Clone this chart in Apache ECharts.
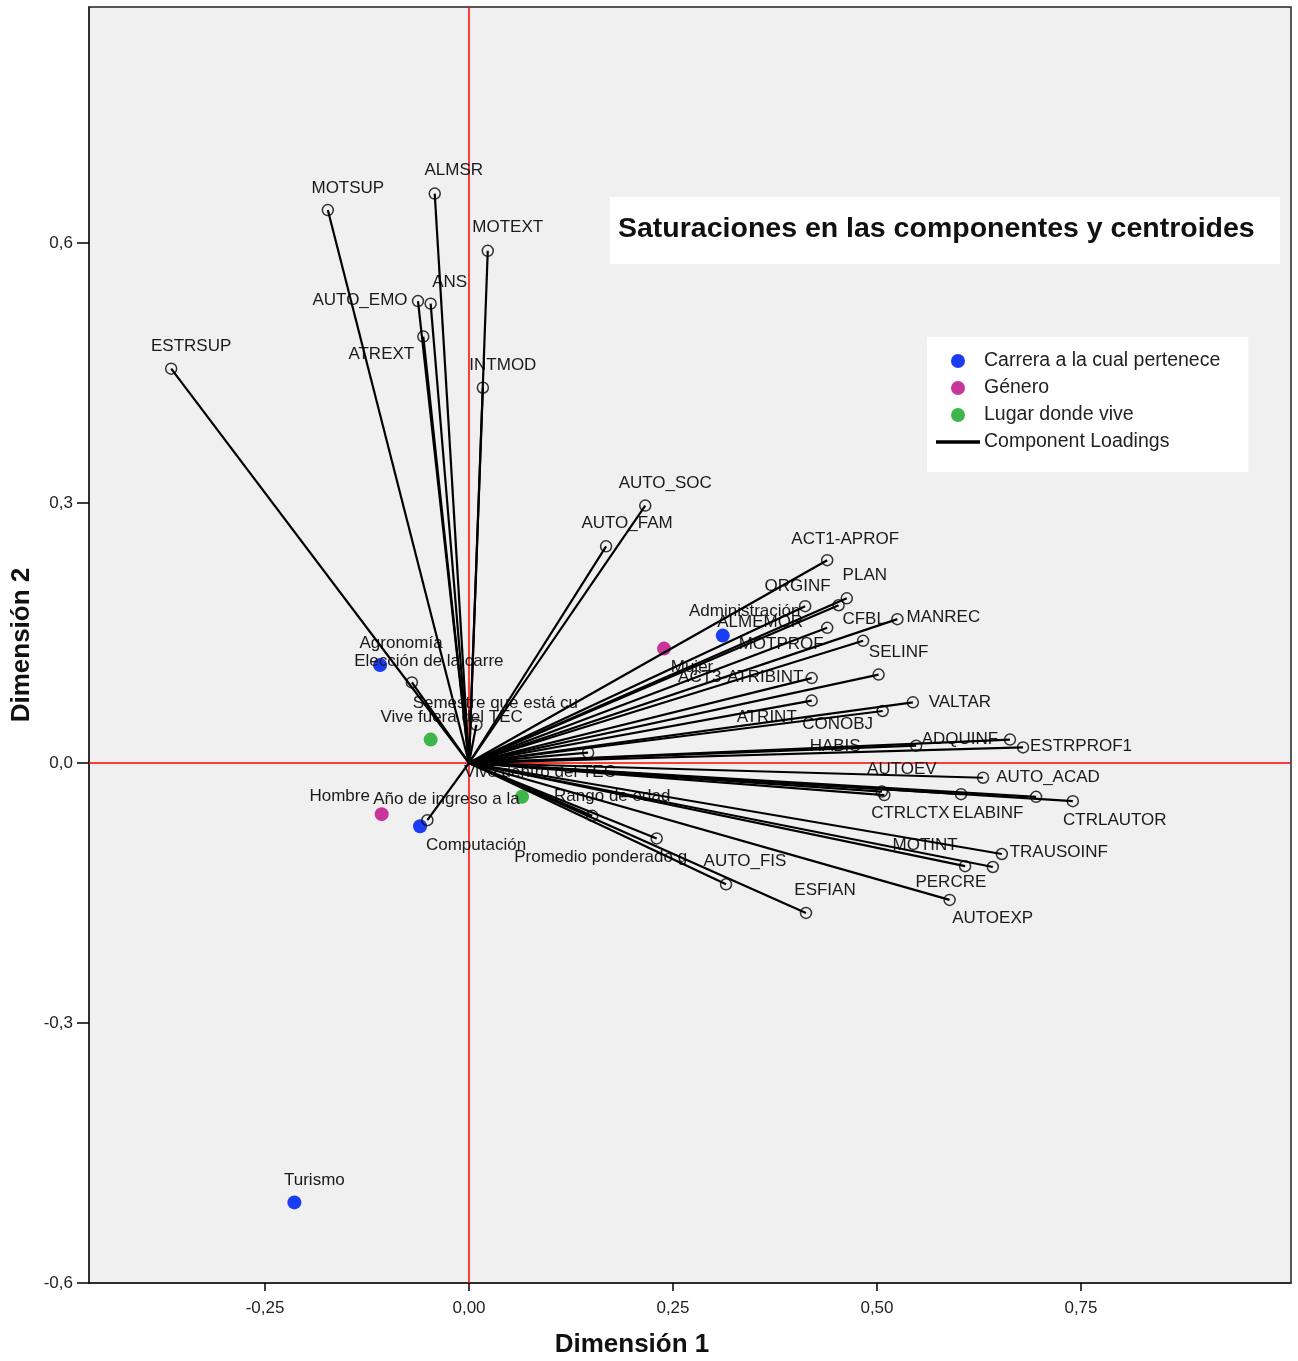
<!DOCTYPE html>
<html><head><meta charset="utf-8">
<script src="https://cdn.jsdelivr.net/npm/echarts@6/dist/echarts.min.js"></script>
<style>html,body{margin:0;padding:0;background:#fff}#c{width:1298px;height:1361px}</style>
</head><body><div id="c"></div>
<script>
// ---- Component loadings ----
const loadingNames = ['ESTRSUP','MOTSUP','ALMSR','MOTEXT','AUTO_EMO','ANS','ATREXT','INTMOD','AUTO_SOC','AUTO_FAM',
  'ACT1-APROF','PLAN','ORGINF','ALMEMOR','MOTPROF','CFBL','MANREC','SELINF','ACT3-ATRIBINT','ATRINT',
  'CONOBJ','VALTAR','HABIS','ADQUINF','ESTRPROF1','AUTO_ACAD','AUTOEV','CTRLCTX','ELABINF','',
  'CTRLAUTOR','TRAUSOINF','MOTINT','PERCRE','AUTOEXP','ESFIAN','AUTO_FIS','Promedio ponderado g','Rango de edad','Año de ingreso a la',
  'Elección de la carre','Semestre que está cu',''];
const loadingDim1 = [-0.365,-0.173,-0.042,0.023,-0.0625,-0.047,-0.056,0.017,0.216,0.168,
  0.439,0.463,0.453,0.412,0.439,0.483,0.525,0.502,0.420,0.420,
  0.507,0.544,0.548,0.663,0.679,0.630,0.506,0.509,0.603,0.695,
  0.740,0.653,0.608,0.642,0.589,0.413,0.315,0.230,0.151,-0.051,
  -0.070,0.009,0.146];
const loadingDim2 = [0.455,0.638,0.657,0.591,0.533,0.530,0.492,0.433,0.297,0.250,
  0.234,0.190,0.182,0.181,0.156,0.141,0.166,0.102,0.098,0.072,
  0.060,0.070,0.020,0.027,0.018,-0.017,-0.033,-0.037,-0.036,-0.039,
  -0.044,-0.105,-0.119,-0.120,-0.158,-0.173,-0.140,-0.087,-0.061,-0.066,
  0.093,0.044,0.012];
// label placement (pixel offsets of label centre from the point) -- style only
const loadingLabelOffsets = [[20,-22],[20,-22],[19,-23],[20,-23],[-58,-1],[19,-21],[-42,18],[20,-22],[20,-22],[21,-23],
  [18,-21],[18,-23],[-41,-19],[-45,16],[-46,17],[1,-21],[46,-2],[20,-22],[-71,-1],[-45,17],
  [-45,13],[47,0],[-81,1],[-50,0],[58,-1],[65,0],[20,-22],[26,18],[27,19],[0,0],
  [42,19],[57,-2],[-40,-21],[-42,15],[43,18],[19,-23],[19,-23],[-56,19],[20,-20],[19,-21],
  [17,-21],[19,-22],[20,-22]];

// ---- Centroids ----
const carreraNames = ['Agronomía','Administración','Computación','Turismo'];
const carreraDim1 = [-0.109,0.311,-0.060,-0.214];
const carreraDim2 = [0.113,0.147,-0.073,-0.507];
const carreraLabelOffsets = [[21,-22],[22,-24],[56,19],[20,-22]];

const generoNames = ['Mujer','Hombre'];
const generoDim1 = [0.239,-0.107];
const generoDim2 = [0.132,-0.059];
const generoLabelOffsets = [[28,19],[-42,-18]];

const lugarNames = ['Vive fuera del TEC','Vive dentro del TEC'];
const lugarDim1 = [-0.047,0.065];
const lugarDim2 = [0.027,-0.039];
const lugarLabelOffsets = [[21,-22],[18,-24]];

const xTicks = [-0.25,0,0.25,0.5,0.75];
const yTicks = [-0.6,-0.3,0,0.3,0.6];
const xRange = [-0.4657, 1.0074];
const yRange = [-0.6, 0.8723];

const LABEL_FONT = 'Liberation Sans, Arial, sans-serif';
const NARROW = '"Liberation Sans Narrow", "Liberation Sans", Arial, sans-serif';
const RED = '#ff0000';

function pts(names, xs, ys, offs) {
  return names.map((n,i)=>({name:n, value:[xs[i],ys[i]], label:{offset:offs[i]}}));
}
function labelBase(half) {
  return {show:true, position:[half,half], distance:0, align:'center', verticalAlign:'middle',
    formatter:p=>p.name, fontSize:17, color:'#1a1a1a', fontFamily:LABEL_FONT,
    textBorderWidth:0, opacity:1};
}

function centroidSeries(name, color, names, xs, ys, offs) {
  return {
    name, type:'scatter', symbol:'circle', symbolSize:14, z:2,
    itemStyle:{color, opacity:1},
    label:labelBase(7), emphasis:{disabled:true}, silent:true,
    data:pts(names,xs,ys,offs)
  };
}
function refLine(name, data) {
  return {name, type:'line', z:2, zlevel:0, silent:true, symbol:'none', color:RED,
    itemStyle:{color:RED}, lineStyle:{color:RED, width:1.5, opacity:1},
    emphasis:{disabled:true}, data};
}

const chart = echarts.init(document.getElementById('c'), null, {renderer:'canvas'});
chart.setOption({
  animation:false,
  backgroundColor:'#ffffff',
  grid:{left:89, right:7, top:7, bottom:78, show:true, backgroundColor:'#f0f0f0',
        borderColor:'#222', borderWidth:1.5},
  xAxis:{type:'value', min:xRange[0], max:xRange[1], splitLine:{show:false},
    axisLine:{show:true, onZero:false, lineStyle:{color:'#222', width:1.5}},
    axisTick:{show:true, customValues:xTicks, length:8, lineStyle:{color:'#000', width:1.5}},
    axisLabel:{customValues:xTicks, formatter:v=>v.toFixed(2).replace('.',','), margin:17,
      fontSize:17, color:'#222', fontFamily:NARROW}},
  yAxis:{type:'value', min:yRange[0], max:yRange[1], splitLine:{show:false},
    axisLine:{show:true, onZero:false, lineStyle:{color:'#222', width:1.5}},
    axisTick:{show:true, customValues:yTicks, length:12, lineStyle:{color:'#000', width:1.5}},
    axisLabel:{customValues:yTicks, formatter:v=>v.toFixed(1).replace('.',','), margin:16,
      fontSize:17, color:'#222', fontFamily:NARROW}},
  legend:{left:927, top:337, orient:'vertical', selectedMode:false,
    backgroundColor:'#ffffff', padding:[14,28,20,9], itemGap:7, itemWidth:42, itemHeight:14,
    textStyle:{fontSize:19.5, color:'#222', fontFamily:LABEL_FONT},
    data:[
      {name:'Carrera a la cual pertenece', icon:'circle'},
      {name:'Género', icon:'circle'},
      {name:'Lugar donde vive', icon:'circle'},
      {name:'Component Loadings', icon:'path://M0,0H42V1.6H0Z', itemStyle:{color:'#000'}}
    ]},
  graphic:[
    {type:'rect', left:610, top:197, shape:{width:670, height:67}, style:{fill:'#ffffff'}, z:10},
    {type:'text', left:618, top:215, style:{text:'Saturaciones en las componentes y centroides',
      font:'bold 28.5px '+LABEL_FONT, fill:'#111'}, z:11},
    {type:'text', x:632, y:1345, style:{text:'Dimensión 1', font:'bold 26px '+NARROW, fill:'#111',
      align:'center', verticalAlign:'middle'}, z:11},
    {type:'text', x:22, y:645, rotation:Math.PI/2, style:{text:'Dimensión 2', font:'bold 26px '+NARROW, fill:'#111',
      align:'center', verticalAlign:'middle'}, z:11}
  ],
  series:[
    centroidSeries('Carrera a la cual pertenece','#1a3cf2',carreraNames,carreraDim1,carreraDim2,carreraLabelOffsets),
    centroidSeries('Género','#c8359b',generoNames,generoDim1,generoDim2,generoLabelOffsets),
    centroidSeries('Lugar donde vive','#3db54a',lugarNames,lugarDim1,lugarDim2,lugarLabelOffsets),
    {name:'loadingLabels', type:'scatter', symbol:'circle', symbolSize:2, z:2, silent:true,
      itemStyle:{color:'rgba(240,240,240,0)'}, label:labelBase(1), emphasis:{disabled:true},
      data:pts(loadingNames,loadingDim1,loadingDim2,loadingLabelOffsets)},
    refLine('refV', [[0,yRange[0]],[0,yRange[1]]]),
    refLine('refH', [[xRange[0],0],[xRange[1],0]]),
    {name:'Component Loadings', type:'lines', coordinateSystem:'cartesian2d', z:3, silent:true,
      lineStyle:{color:'#000', width:2.2, opacity:1},
      data:loadingNames.map((n,i)=>({coords:[[0,0],[loadingDim1[i],loadingDim2[i]]]}))},
    {name:'loadingPoints', type:'scatter', symbol:'circle', symbolSize:11, z:4, silent:true,
      itemStyle:{color:'rgba(0,0,0,0)', borderColor:'#000', borderWidth:1.5},
      emphasis:{disabled:true},
      data:loadingNames.map((n,i)=>[loadingDim1[i],loadingDim2[i]])}
  ]
});
</script></body></html>
